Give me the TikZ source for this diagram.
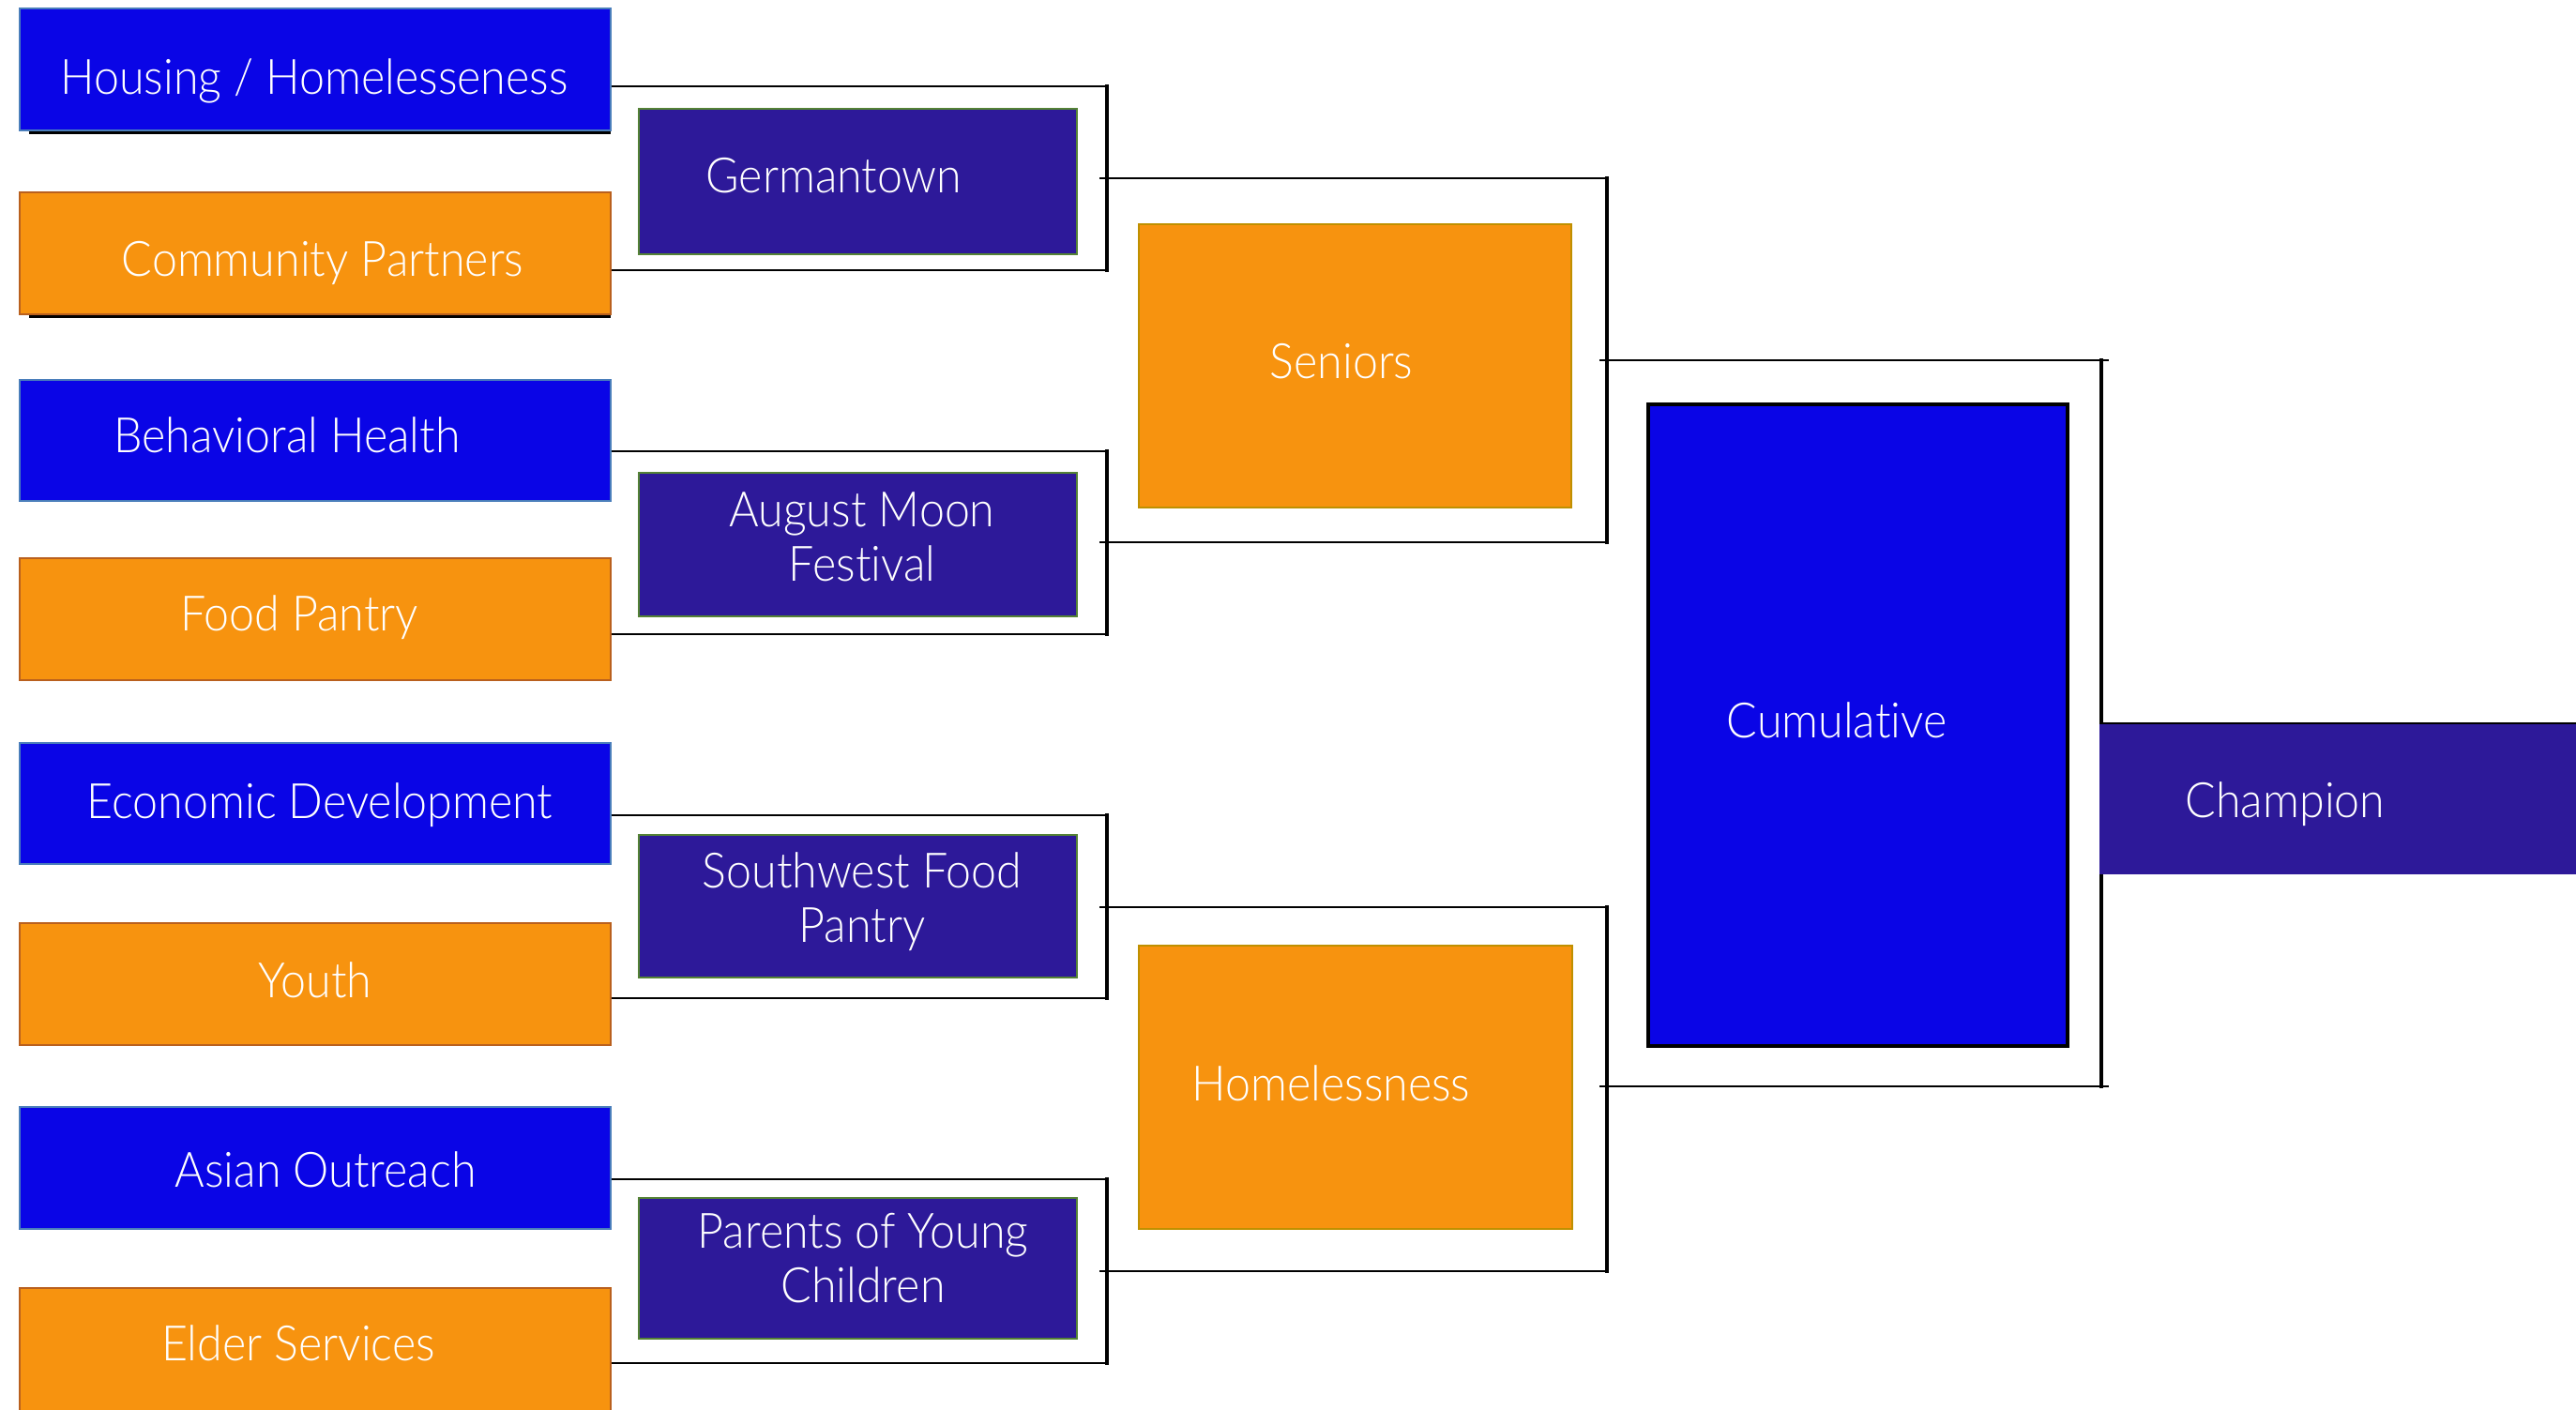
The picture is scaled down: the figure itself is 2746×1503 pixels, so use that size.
\documentclass[tikz,border=0pt]{standalone}
\usepackage{fontspec}
\setmainfont{Lato}[UprightFont={* Light}, FakeStretch=0.93, Ligatures=NoCommon]
\definecolor{bblue}{RGB}{10,5,230}
\definecolor{bblueline}{RGB}{74,126,187}
\definecolor{borange}{RGB}{247,147,15}
\definecolor{borangeline}{RGB}{185,96,30}
\definecolor{bpurple}{RGB}{45,25,153}
\definecolor{bgreen}{RGB}{84,130,53}
\definecolor{bgold}{RGB}{191,144,0}
\newcommand\bx[6]{%
  \node[#2, minimum width={(#5-#3)*0.5pt}, minimum height={(#6-#4)*0.5pt}] (#1) at ({(#3+#5)/2},{(#4+#6)/2}) {};}
\begin{document}
\begin{tikzpicture}[x=0.5pt,y=-0.5pt,
  hl/.style={line width=1.4pt, draw=black},
  vl/.style={line width=2.2pt, draw=black, line cap=rect},
  boxbase/.style={rectangle, inner sep=0pt, outer sep=0pt},
  leftblue/.style={boxbase, draw=bblueline, fill=bblue, line width=1.3pt},
  leftorange/.style={boxbase, draw=borangeline, fill=borange, line width=1.3pt},
  midpurple/.style={boxbase, draw=bgreen, fill=bpurple, line width=1.2pt},
  semibox/.style={boxbase, draw=bgold, fill=borange, line width=1.4pt},
  cumbox/.style={boxbase, draw=black, fill=bblue, line width=1.6pt},
  champbox/.style={boxbase, fill=bpurple},
  lbl/.style={text=white, font=\fontsize{26}{29}\selectfont, anchor=base, inner sep=0pt}]
\useasboundingbox (0,0) rectangle (2746,1503);

% round 1 brackets
\foreach \t/\b in {92/288, 481/676, 869/1064, 1257/1453}{
  \draw[hl] (651,\t) -- (1180,\t);
  \draw[hl] (651,\b) -- (1180,\b);
  \draw[vl] (1180,\t) -- (1180,\b);
}
% round 2 brackets
\foreach \t/\b in {190/578, 967/1355}{
  \draw[hl] (1172,\t) -- (1713,\t);
  \draw[hl] (1172,\b) -- (1713,\b);
  \draw[vl] (1713,\t) -- (1713,\b);
}
% final bracket
\draw[hl] (1705,384) -- (2248,384);
\draw[hl] (1705,1158) -- (2248,1158);
\draw[vl] (2240,384) -- (2240,1158);

% left column
\bx{hous}{leftblue}{21}{9}{651}{139}
\bx{comm}{leftorange}{21}{205}{651}{335}
\bx{beh}{leftblue}{21}{405}{651}{534}
\bx{food}{leftorange}{21}{595}{651}{725}
\bx{econ}{leftblue}{21}{792}{651}{921}
\bx{youth}{leftorange}{21}{984}{651}{1114}
\bx{asian}{leftblue}{21}{1180}{651}{1310}
\bx{elder}{leftorange}{21}{1373}{651}{1510}

% shadow lines under the first two boxes
\draw[line width=1.3pt] ([xshift=5pt,yshift=-1.3pt]hous.south west) -- ([yshift=-1.3pt]hous.south east);
\draw[line width=1.3pt] ([xshift=5pt,yshift=-1.3pt]comm.south west) -- ([yshift=-1.3pt]comm.south east);

% round 1
\bx{germ}{midpurple}{681}{116}{1148}{271}
\bx{aug}{midpurple}{681}{504}{1148}{657}
\bx{sw}{midpurple}{681}{890}{1148}{1042}
\bx{par}{midpurple}{681}{1277}{1148}{1427}

% round 2
\bx{sen}{semibox}{1214}{239}{1675}{541}
\bx{hom}{semibox}{1214}{1008}{1676}{1310}

% final
\bx{cum}{cumbox}{1757}{431}{2204}{1115}
\bx{champ}{champbox}{2238}{771}{2770}{932}
\draw[line width=1pt] (champ.north west) -- (champ.north east);

% labels
\node[lbl] (thous) at (335,101) {Housing / Homelesseness};
\node[lbl] (tcomm) at (344,294) {Community Partners};
\node[lbl] (tbeh) at (306,482) {Behavioral Health};
\node[lbl] (tfood) at (319,672) {Food Pantry};
\node[lbl] (tecon) at (341,872) {Economic Development};
\node[lbl] (tyouth) at (336,1063) {Youth};
\node[lbl] (tasian) at (347,1265) {Asian Outreach};
\node[lbl] (telder) at (318,1450) {Elder Services};

\node[lbl] (tgerm) at (889,206) {Germantown};
\node[lbl] (taug1) at (919,561) {August Moon};
\node[lbl] (taug2) at (919,619) {Festival};
\node[lbl] (tsw1) at (919,946) {Southwest Food};
\node[lbl] (tsw2) at (919,1004) {Pantry};
\node[lbl] (tpar1) at (920,1330) {Parents of Young};
\node[lbl] (tpar2) at (920,1388) {Children};

\node[lbl] (tsen) at (1430,403) {Seniors};
\node[lbl] (thom) at (1419,1173) {Homelessness};
\node[lbl] (tcum) at (1958,786) {Cumulative};
\node[lbl] (tchamp) at (2436,871) {Champion};
\end{tikzpicture}
\end{document}
